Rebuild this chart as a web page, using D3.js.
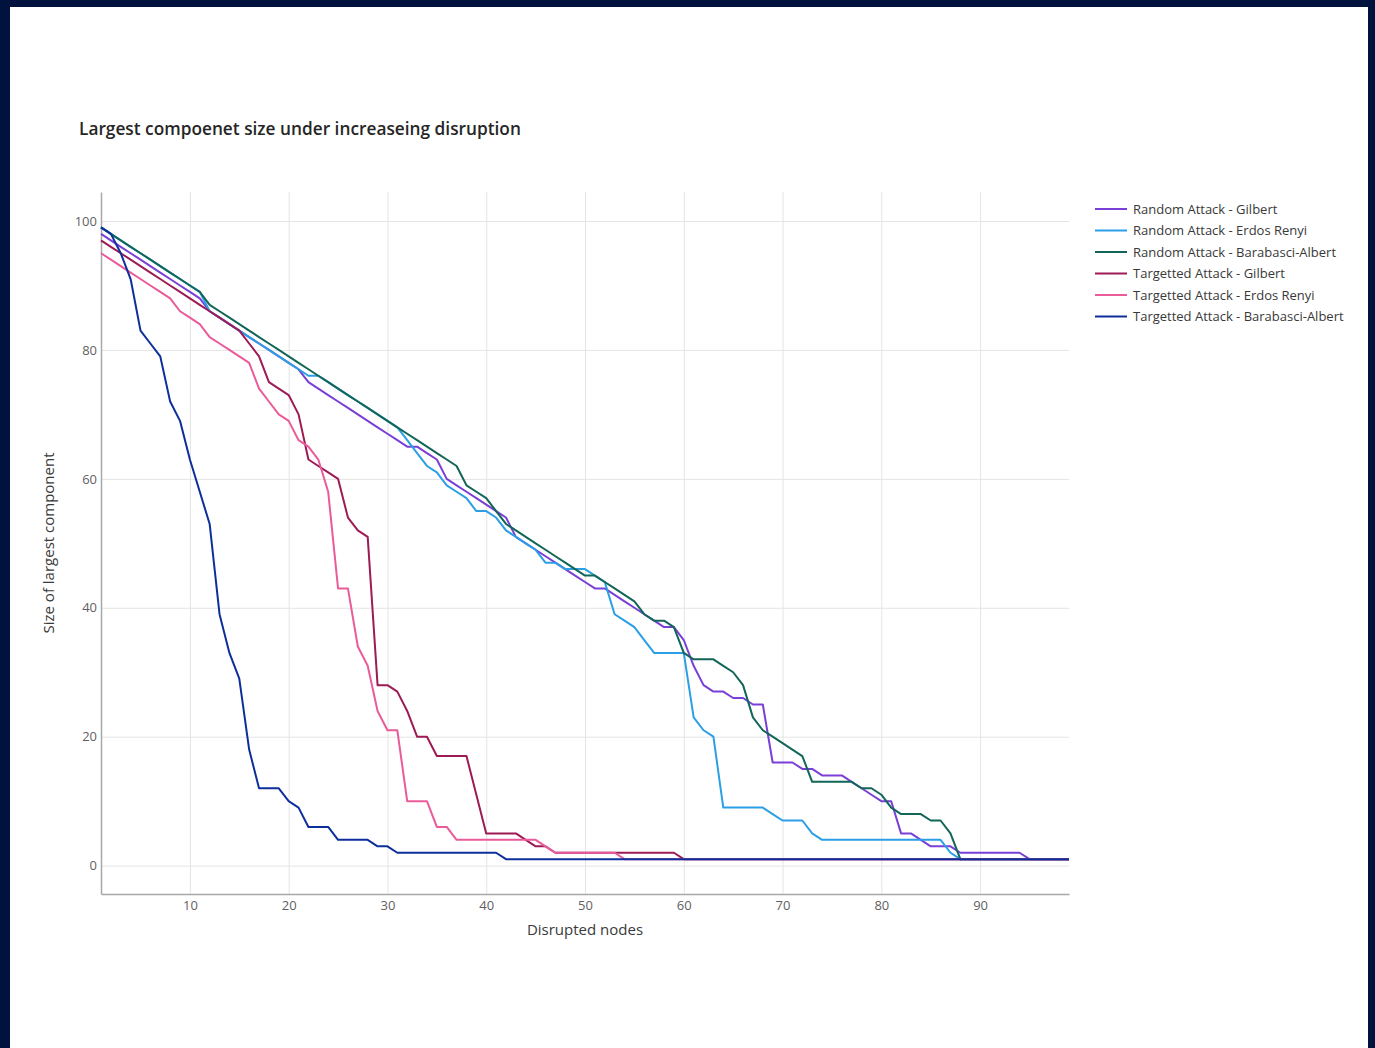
<!DOCTYPE html>
<html>
<head>
<meta charset="utf-8">
<script src="https://cdn.jsdelivr.net/npm/d3@7"></script>
<style>
  html, body { margin: 0; padding: 0; background: #01123f; }
  svg { display: block; }
</style>
</head>
<body>
<script>
// ---------------- DATA ----------------
const disruptedNodes = [
  1,2,3,4,5,6,7,8,9,10, 11,12,13,14,15,16,17,18,19,20,
  21,22,23,24,25,26,27,28,29,30, 31,32,33,34,35,36,37,38,39,40,
  41,42,43,44,45,46,47,48,49,50, 51,52,53,54,55,56,57,58,59,60,
  61,62,63,64,65,66,67,68,69,70, 71,72,73,74,75,76,77,78,79,80,
  81,82,83,84,85,86,87,88,89,90, 91,92,93,94,95,96,97,98,99
];

const seriesNames = [
  "Random Attack - Gilbert",
  "Random Attack - Erdos Renyi",
  "Random Attack - Barabasci-Albert",
  "Targetted Attack - Gilbert",
  "Targetted Attack - Erdos Renyi",
  "Targetted Attack - Barabasci-Albert"
];

const randomGilbert = [
  98,97,96,95,94,93,92,91,90,89, 88,86,85,84,83,82,81,80,79,78,
  77,75,74,73,72,71,70,69,68,67, 66,65,65,64,63,60,59,58,57,56,
  55,54,51,50,49,48,47,46,45,44, 43,43,42,41,40,39,38,37,37,35,
  31,28,27,27,26,26,25,25,16,16, 16,15,15,14,14,14,13,12,11,10,
  10,5,5,4,3,3,3,2,2,2, 2,2,2,2,1,1,1,1,1
];
const randomErdosRenyi = [
  99,98,97,96,95,94,93,92,91,90, 89,86,85,84,83,82,81,80,79,78,
  77,76,76,75,74,73,72,71,70,69, 68,66,64,62,61,59,58,57,55,55,
  54,52,51,50,49,47,47,46,46,46, 45,44,39,38,37,35,33,33,33,33,
  23,21,20,9,9,9,9,9,8,7, 7,7,5,4,4,4,4,4,4,4,
  4,4,4,4,4,4,2,1,1,1, 1,1,1,1,1,1,1,1,1
];
const randomBarabasiAlbert = [
  99,98,97,96,95,94,93,92,91,90, 89,87,86,85,84,83,82,81,80,79,
  78,77,76,75,74,73,72,71,70,69, 68,67,66,65,64,63,62,59,58,57,
  55,53,52,51,50,49,48,47,46,45, 45,44,43,42,41,39,38,38,37,33,
  32,32,32,31,30,28,23,21,20,19, 18,17,13,13,13,13,13,12,12,11,
  9,8,8,8,7,7,5,1,1,1, 1,1,1,1,1,1,1,1,1
];
const targetedGilbert = [
  97,96,95,94,93,92,91,90,89,88, 87,86,85,84,83,81,79,75,74,73,
  70,63,62,61,60,54,52,51,28,28, 27,24,20,20,17,17,17,17,11,5,
  5,5,5,4,3,3,2,2,2,2, 2,2,2,2,2,2,2,2,2,1,
  1,1,1,1,1,1,1,1,1,1, 1,1,1,1,1,1,1,1,1,1,
  1,1,1,1,1,1,1,1,1,1, 1,1,1,1,1,1,1,1,1
];
const targetedErdosRenyi = [
  95,94,93,92,91,90,89,88,86,85, 84,82,81,80,79,78,74,72,70,69,
  66,65,63,58,43,43,34,31,24,21, 21,10,10,10,6,6,4,4,4,4,
  4,4,4,4,4,3,2,2,2,2, 2,2,2,1,1,1,1,1,1,1,
  1,1,1,1,1,1,1,1,1,1, 1,1,1,1,1,1,1,1,1,1,
  1,1,1,1,1,1,1,1,1,1, 1,1,1,1,1,1,1,1,1
];
const targetedBarabasiAlbert = [
  99,98,95,91,83,81,79,72,69,63, 58,53,39,33,29,18,12,12,12,10,
  9,6,6,6,4,4,4,4,3,3, 2,2,2,2,2,2,2,2,2,2,
  2,1,1,1,1,1,1,1,1,1, 1,1,1,1,1,1,1,1,1,1,
  1,1,1,1,1,1,1,1,1,1, 1,1,1,1,1,1,1,1,1,1,
  1,1,1,1,1,1,1,1,1,1, 1,1,1,1,1,1,1,1,1
];

const xTickValues = [10,20,30,40,50,60,70,80,90];
const yTickValues = [0,20,40,60,80,100];

const chartTitle = "Largest compoenet size under increaseing disruption";
const xAxisTitle = "Disrupted nodes";
const yAxisTitle = "Size of largest component";

// ---------------- STYLE ----------------
const colors = ["#7a3fd6", "#2a9fe6", "#116658", "#9d1b55", "#ea5b9a", "#0d2f9c"];
const fontFamily = "'Open Sans', 'Noto Sans', sans-serif";

const W = 1375, H = 1048;
const plot = { left: 101, right: 1069, top: 192, bottom: 894 };

const allSeries = [randomGilbert, randomErdosRenyi, randomBarabasiAlbert,
                   targetedGilbert, targetedErdosRenyi, targetedBarabasiAlbert];

const svg = d3.select("body").append("svg")
  .attr("width", W).attr("height", H);

// frame
svg.append("rect").attr("x", 0).attr("y", 0).attr("width", W).attr("height", H).attr("fill", "#01123f");
svg.append("rect").attr("x", 10).attr("y", 7).attr("width", 1358).attr("height", H - 7).attr("fill", "#ffffff");

const x = d3.scaleLinear().domain([1, 99]).range([plot.left, plot.right]);
const y = d3.scaleLinear().domain([-4.4, 104.5]).range([plot.bottom, plot.top]);

// grid
svg.append("g")
  .attr("transform", `translate(0,${plot.bottom})`)
  .call(d3.axisBottom(x).tickValues(xTickValues).tickSize(-(plot.bottom - plot.top)).tickFormat(""))
  .call(g => g.select(".domain").remove())
  .call(g => g.selectAll("line").attr("stroke", "#e4e4e4").attr("stroke-width", 1));

svg.append("g")
  .attr("transform", `translate(${plot.left},0)`)
  .call(d3.axisLeft(y).tickValues(yTickValues).tickSize(-(plot.right - plot.left)).tickFormat(""))
  .call(g => g.select(".domain").remove())
  .call(g => g.selectAll("line").attr("stroke", "#e4e4e4").attr("stroke-width", 1));

// axes
const xAxisG = svg.append("g")
  .attr("transform", `translate(0,${plot.bottom})`)
  .call(d3.axisBottom(x).tickValues(xTickValues).tickSize(0).tickPadding(7).tickSizeOuter(0));
const yAxisG = svg.append("g")
  .attr("transform", `translate(${plot.left},0)`)
  .call(d3.axisLeft(y).tickValues(yTickValues).tickSize(0).tickPadding(4).tickSizeOuter(0));

[xAxisG, yAxisG].forEach(g => {
  g.select(".domain").attr("stroke", "#a8a8a8").attr("stroke-width", 1.5);
  g.selectAll("text").attr("fill", "#5f5f5f").style("font-family", fontFamily).style("font-size", "13px");
});

// lines
const line = d3.line()
  .x((d, i) => x(disruptedNodes[i]))
  .y(d => y(d));

svg.append("g").selectAll("path")
  .data(allSeries)
  .join("path")
  .attr("d", d => line(d))
  .attr("fill", "none")
  .attr("stroke", (d, i) => colors[i])
  .attr("stroke-width", 2)
  .attr("stroke-linejoin", "round");

// title
const title = svg.append("text")
  .attr("x", 79).attr("y", 135)
  .attr("fill", "#262626")
  .style("font-family", fontFamily)
  .style("font-size", "17px")
  .style("font-weight", 600)
  .text(chartTitle);
{
  const len = title.node().getComputedTextLength();
  const fs = 17 * 442 / len;
  title.style("font-size", Math.min(19, Math.max(14, fs)) + "px");
}

// axis titles
svg.append("text")
  .attr("x", (plot.left + plot.right) / 2).attr("y", 935)
  .attr("text-anchor", "middle")
  .attr("fill", "#393939")
  .style("font-family", fontFamily).style("font-size", "15px")
  .text(xAxisTitle);

svg.append("text")
  .attr("transform", `translate(54,${(plot.top + plot.bottom) / 2}) rotate(-90)`)
  .attr("text-anchor", "middle")
  .attr("fill", "#393939")
  .style("font-family", fontFamily).style("font-size", "15px")
  .text(yAxisTitle);

// legend
const legend = svg.append("g").attr("transform", "translate(1095,209)");
const item = legend.selectAll("g").data(seriesNames).join("g")
  .attr("transform", (d, i) => `translate(0,${i * 21.5})`);
item.append("line")
  .attr("x1", 0).attr("x2", 32).attr("y1", 0).attr("y2", 0)
  .attr("stroke", (d, i) => colors[i]).attr("stroke-width", 2);
item.append("text")
  .attr("x", 38).attr("y", 0).attr("dy", "0.35em")
  .attr("fill", "#393939")
  .style("font-family", fontFamily).style("font-size", "13px")
  .text(d => d);
</script>
</body>
</html>
